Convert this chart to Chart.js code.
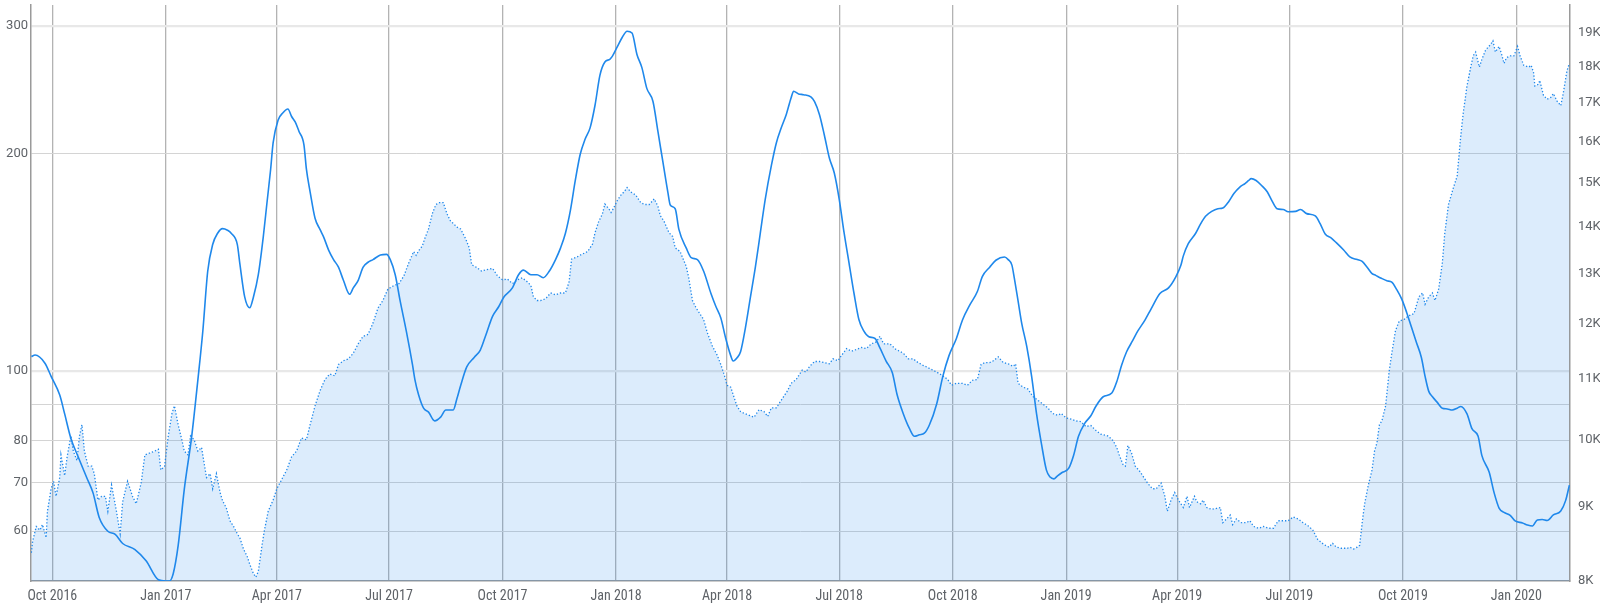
<!DOCTYPE html>
<html><head><meta charset="utf-8">
<script src="https://cdn.jsdelivr.net/npm/chart.js@4.4.1/dist/chart.umd.min.js"></script>
<style>html,body{margin:0;padding:0;background:#fff;}#wrap{width:1600px;height:607px;}</style>
</head><body><div id="wrap"><canvas id="c" width="1600" height="607"></canvas></div>
<script>
// x values are days since 2016-10-01
const xTickDays = [0,92,182,273,365,457,547,638,730,822,912,1003,1095,1187];
const xTickLabels = ['Oct 2016','Jan 2017','Apr 2017','Jul 2017','Oct 2017','Jan 2018','Apr 2018','Jul 2018','Oct 2018','Jan 2019','Apr 2019','Jul 2019','Oct 2019','Jan 2020'];
const leftTicks = [60,70,80,90,100,200,300];
const rightTicks = [8000,9000,10000,11000,12000,13000,14000,15000,16000,17000,18000,19000];

const solidDays = [-17,-14,-6,-1,6,10,15,21,28,33,38,45,51,57,67,76,86,92,95,98,102,107,113,118,122,126,130,134,138,142,145,150,152,156,160,163,167,171,174,177,179,183,187,191,194,197,200,204,206,209,213,217,220,224,228,232,236,241,244,248,252,256,260,266,271,274,278,282,287,292,294,297,301,305,310,315,319,325,328,331,336,342,347,351,357,362,366,373,378,382,388,393,398,403,408,412,416,420,424,428,432,436,440,444,448,452,454,458,462,466,470,474,478,482,487,491,495,499,501,505,508,514,518,523,528,534,538,542,546,550,552,555,558,562,566,570,574,578,583,587,591,595,599,601,605,609,615,618,622,626,630,634,638,642,646,650,654,658,662,667,671,676,681,685,690,695,699,703,707,711,717,722,727,733,738,744,750,754,760,765,772,775,778,780,783,786,790,794,798,802,806,809,812,815,819,824,828,832,837,842,846,852,859,863,867,871,876,880,886,891,898,905,911,915,917,921,927,931,935,940,945,949,954,958,963,967,970,972,976,981,985,989,993,998,1002,1008,1012,1017,1024,1028,1032,1037,1041,1047,1052,1058,1062,1066,1070,1073,1077,1082,1086,1090,1094,1098,1102,1106,1110,1113,1116,1119,1123,1127,1131,1135,1139,1142,1147,1151,1156,1159,1165,1169,1173,1177,1182,1186,1192,1196,1200,1204,1208,1212,1217,1223,1227,1230];
const solidValues = [104.7,105.2,102.5,98.3,92.6,87.2,80.7,76.0,71.1,67.8,62.7,60.0,59.4,57.7,56.6,54.6,51.4,51.2,51.2,52.4,57.3,68.6,81.2,97.2,113.5,137.5,149.6,155.1,157.4,156.6,155.1,149.6,140.9,126.5,122.3,126.5,135.9,153.2,170.8,190.2,206.8,222.3,227.7,230.4,225,221,214.5,205.6,190.2,177,162.7,157,153.2,147,142.6,139.2,133.5,127.7,130.3,133.5,139.2,141.4,142.6,144.7,145,142.6,135.9,125,113.5,102,97.2,92.6,88.8,87.7,85.3,86.4,88.3,88.3,91.5,95.4,101.3,104.4,106.9,111.5,119.1,122.8,126.5,130.3,135.9,137.9,135.9,135.9,134.6,137.5,142.6,147.9,155.1,166.7,183.5,199.5,209.4,217,233.2,256.7,267.7,270,272.5,280.8,289.4,295.3,293.6,274.2,262.9,246.1,236,214.5,194.8,177,169.7,167.7,157,147.9,143.5,142.6,137.5,128,122.8,118.4,110.9,105.0,103.2,104.2,106.3,114.9,126.5,139.2,155.1,172.8,192.5,206.8,217,226.3,238.8,243.8,241.8,241.2,239.5,236,226.3,211.8,197.1,187.9,172.8,155.1,140.9,128,117.7,113.5,111.5,110.9,107.6,103.2,99.5,92.6,87.2,83.2,81.2,81.6,82.0,84.1,90,98.3,105,110.9,117.7,123.5,128.8,135.1,139.2,142.3,143.8,142.6,140.1,134.3,125,116.3,108.2,98.3,87.2,79.2,72.9,71.3,70.9,71.6,72.4,73.3,76.4,81.2,84.6,86.7,89.3,92.1,93.2,96.6,101.9,106.3,110.2,113.5,117.7,122.0,128,130.3,135.1,140,144.3,150,155.1,159.8,163.7,166.3,167.7,168.1,171.8,176,179.8,181.7,183.5,184.6,183.5,180.2,177,171.8,167.7,167.3,166.1,166.3,167.3,165.1,163.9,159.8,154.7,152.7,150.5,147,143.8,142.6,141.8,139.2,136.4,135.6,134.5,133.3,132.7,129.6,125.8,120.6,114.9,109.5,104.4,98.3,93.7,92.1,90.4,88.8,88.6,88.3,88.8,89.3,87.2,83.2,81.2,76.4,72.4,67.8,64.6,63.7,63.1,62.0,61.6,61.2,61.0,62.2,62.3,62.1,63.2,64.0,66.2,69.5];

const dottedDays = [-17,-16,-13,-10,-8,-5,-4,-1,1,3,6,7,10,12,15,17,20,22,24,26,29,32,34,37,40,43,45,48,52,55,57,61,65,68,72,75,79,83,86,88,91,94,97,99,102,105,107,110,112,115,118,121,125,128,130,133,136,138,141,144,147,150,152,155,158,160,163,165,167,170,172,175,179,182,186,190,194,198,202,206,209,213,217,221,225,229,232,236,240,244,248,252,256,260,264,268,272,277,281,285,289,293,295,297,300,302,305,308,311,314,317,320,323,325,328,331,335,338,340,344,348,352,357,361,365,369,373,377,381,385,388,390,393,396,400,404,408,412,416,419,421,425,429,434,438,440,443,446,448,451,453,455,458,461,464,466,469,473,477,480,484,488,491,493,496,500,503,505,509,514,516,519,522,526,528,531,535,539,542,545,547,550,553,555,558,561,565,569,573,577,580,583,587,589,592,596,599,603,606,608,611,614,618,622,626,630,633,637,639,644,648,652,656,660,664,668,671,674,679,684,690,694,698,702,706,711,717,722,726,729,733,738,742,746,750,753,756,760,763,767,771,775,779,781,783,787,791,795,799,803,807,811,815,818,822,826,830,834,838,842,846,850,856,860,863,865,868,870,872,875,878,882,886,888,892,895,899,902,904,907,910,913,915,917,920,922,926,928,931,933,936,940,944,947,949,952,955,957,960,964,968,971,974,978,982,986,990,994,998,1002,1006,1010,1014,1018,1022,1026,1031,1035,1038,1041,1045,1050,1052,1055,1058,1060,1062,1064,1067,1070,1072,1074,1076,1078,1081,1084,1086,1089,1092,1096,1100,1104,1108,1111,1113,1116,1119,1121,1124,1127,1129,1132,1136,1139,1142,1144,1147,1150,1152,1154,1157,1159,1162,1166,1168,1170,1173,1175,1177,1179,1182,1185,1188,1190,1193,1197,1199,1201,1202,1205,1206,1209,1212,1215,1217,1220,1223,1225,1228,1230];
const dottedValues = [8365,8515,8719,8668,8745,8566,8930,9253,9363,9144,9419,9761,9447,9732,10056,9819,9675,10056,10237,9819,9589,9589,9476,9090,9144,9144,8930,9308,8930,8617,9063,9363,9144,9036,9336,9761,9790,9819,9848,9531,9589,10056,10421,10546,10237,9996,9819,9761,10056,9996,9819,9877,9419,9476,9253,9476,9200,9080,8980,8798,8719,8617,8566,8414,8315,8217,8096,8048,8120,8464,8668,8930,9090,9253,9391,9531,9732,9819,10026,9996,10237,10546,10798,10993,11091,11058,11257,11324,11358,11459,11631,11770,11805,12017,12306,12453,12677,12752,12790,12943,13215,13453,13373,13470,13573,13735,13941,14276,14490,14534,14534,14276,14108,14066,13983,13941,13735,13533,13176,13121,13044,13075,13098,12943,12867,12882,12790,12867,12905,12828,12752,12527,12453,12453,12490,12602,12565,12602,12602,12828,13294,13334,13390,13453,13614,13858,14108,14276,14500,14400,14310,14404,14577,14707,14795,14883,14777,14707,14534,14490,14490,14620,14447,14234,14108,13858,13776,13533,13453,13137,12905,12453,12306,12160,12088,11840,11596,11425,11257,11058,10895,10863,10672,10546,10452,10421,10390,10359,10483,10452,10371,10514,10514,10577,10672,10798,10928,10990,11091,11157,11124,11223,11311,11311,11291,11270,11358,11324,11393,11543,11495,11529,11563,11543,11631,11665,11770,11631,11631,11529,11459,11358,11358,11291,11243,11190,11124,11058,10993,10895,10928,10928,10895,10980,10993,11257,11291,11291,11324,11393,11291,11270,11223,11270,10928,10863,10830,10704,10641,10577,10514,10421,10390,10421,10347,10329,10298,10286,10207,10225,10146,10086,10056,9984,9877,9761,9617,9589,9907,9790,9589,9504,9391,9336,9253,9253,9336,9144,8930,9090,9198,9090,9036,8983,9144,8983,9144,9063,9036,9090,8983,8957,8972,8983,8771,8823,8876,8745,8823,8771,8771,8798,8719,8694,8719,8694,8694,8798,8798,8798,8850,8823,8771,8730,8668,8540,8474,8439,8490,8439,8424,8424,8439,8414,8439,8464,8771,9036,9308,9531,9819,9950,10237,10300,10546,11157,11459,11875,12053,12088,12160,12196,12527,12602,12379,12527,12602,12453,12677,13215,13858,14490,14883,15150,16171,16758,17469,17996,18319,18429,17996,18211,18483,18649,18760,18429,18594,18374,18103,18265,18319,18319,18594,18319,18050,17996,18050,17837,17469,17521,17625,17211,17109,17160,17262,17058,16937,17262,17890,18103];

const BLUE = '#1f88eb';
const LABEL = '#5f6368';
const pts = (xs, ys) => xs.map((x, i) => ({x: x, y: ys[i]}));
const noPad = s => { s.paddingTop = 0; s.paddingBottom = 0; s.paddingLeft = 0; s.paddingRight = 0; };

new Chart(document.getElementById('c'), {
  type: 'line',
  data: {
    datasets: [
      { data: pts(solidDays, solidValues), yAxisID: 'yL', borderColor: BLUE, borderWidth: 1.6,
        pointRadius: 0, fill: false, cubicInterpolationMode: 'monotone' },
      { data: pts(dottedDays, dottedValues), yAxisID: 'yR', borderColor: BLUE, borderWidth: 1.3,
        borderDash: [1.3, 2], pointRadius: 0, fill: 'start', backgroundColor: 'rgba(30,136,235,0.155)', tension: 0 }
    ]
  },
  options: {
    responsive: false, animation: false,
    layout: { padding: { top: 5, left: 0, right: 0, bottom: 0 } },
    plugins: { legend: { display: false }, tooltip: { enabled: false } },
    scales: {
      x: {
        type: 'linear', min: -17.3, max: 1230.5,
        afterBuildTicks: s => { s.ticks = xTickDays.map(v => ({ value: v })); },
        afterFit: s => { s.height = 26; noPad(s); },
        ticks: { autoSkip: false, maxRotation: 0, padding: 7, color: LABEL,
          font: { family: "'Liberation Sans Narrow', 'Roboto Condensed', Roboto", size: 14 },
          callback: v => xTickLabels[xTickDays.indexOf(v)] },
        grid: { color: '#b3b3b3', lineWidth: 1.3, drawTicks: false },
        border: { color: '#9a9a9a', width: 1.5 }
      },
      yL: {
        type: 'logarithmic', position: 'left', min: 51.2, max: 321,
        afterBuildTicks: s => { s.ticks = leftTicks.map(v => ({ value: v })); },
        afterFit: s => { s.width = 31; noPad(s); },
        ticks: { padding: 3, color: LABEL, font: { family: 'Roboto', size: 13 },
          callback: v => (v === 90 ? '' : String(v)) },
        grid: { drawTicks: false,
          color: c => (c.tick && (c.tick.value === 100 || c.tick.value === 300)) ? '#e8e8e8' : '#d4d4d4',
          lineWidth: c => (c.tick && (c.tick.value === 100 || c.tick.value === 300)) ? 2.2 : 1 },
        border: { color: '#9a9a9a', width: 1.5 }
      },
      yR: {
        type: 'logarithmic', position: 'right', min: 8000, max: 19850,
        afterBuildTicks: s => { s.ticks = rightTicks.map(v => ({ value: v })); },
        afterFit: s => { s.width = 30; noPad(s); },
        ticks: { padding: 8, color: LABEL, font: { family: 'Roboto', size: 13 },
          callback: v => (v / 1000) + 'K' },
        grid: { display: false, drawTicks: false },
        border: { color: '#9a9a9a', width: 1.5 }
      }
    }
  }
});
</script></body></html>
